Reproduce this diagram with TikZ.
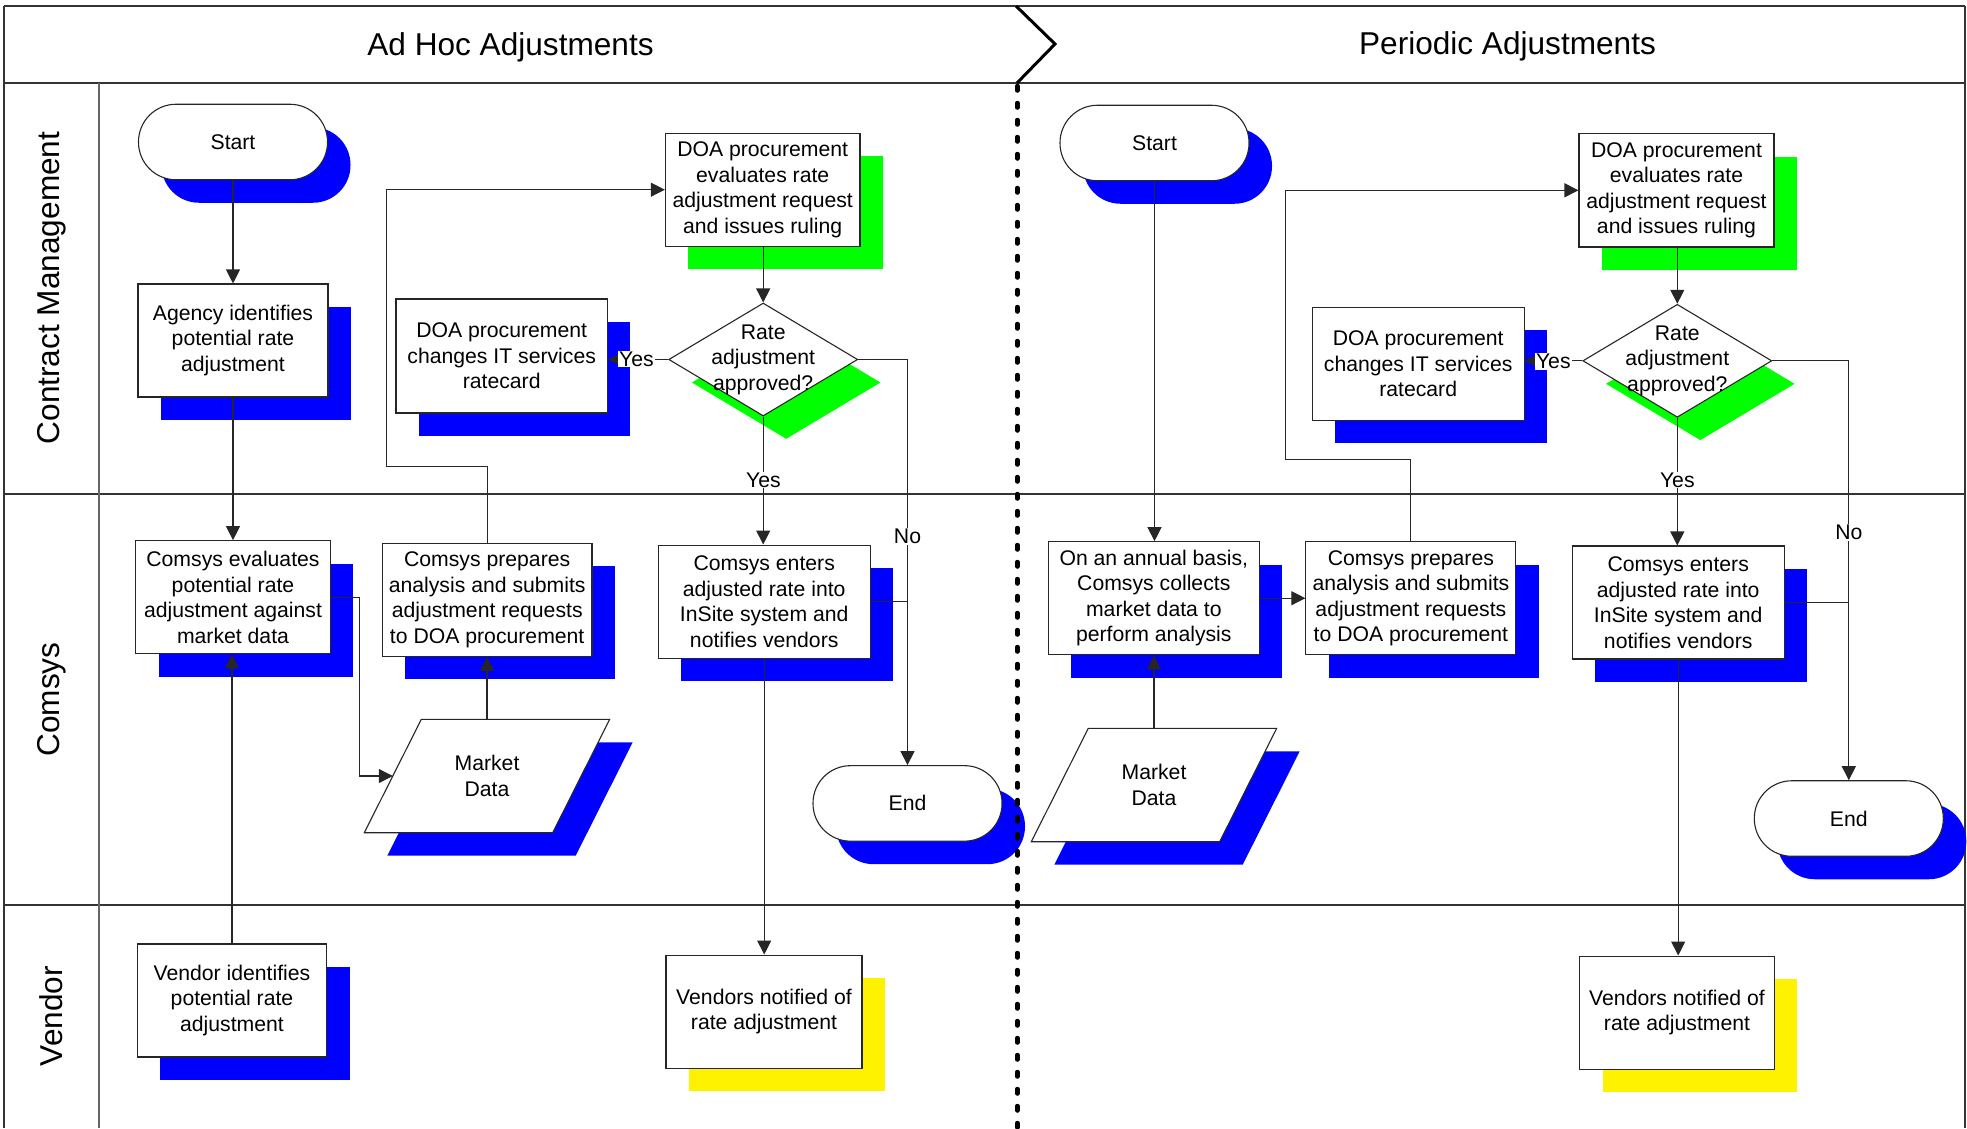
\documentclass[tikz,border=0pt]{standalone}
\usepackage{fontspec}
\setmainfont{Liberation Sans}
\usetikzlibrary{arrows.meta,shapes.geometric,shadows,calc}
\begin{document}
\begin{tikzpicture}[x=1pt,y=-1pt,
  every node/.style={font=\fontsize{21.2}{25.5}\selectfont},
  bshadow/.style={general shadow={shadow xshift=23pt,shadow yshift=-23pt,fill=blue}},
  gshadow/.style={general shadow={shadow xshift=23pt,shadow yshift=-23pt,fill=green}},
  yshadow/.style={general shadow={shadow xshift=23pt,shadow yshift=-23pt,fill=yellow}},
  proc/.style={draw=black!85,line width=1.1pt,fill=white,align=center,inner sep=1pt},
  term/.style={draw=black!85,line width=1.1pt,fill=white,rounded corners=37.5pt,minimum width=189pt,minimum height=75.5pt,inner sep=0pt},
  dec/.style={shape=diamond,draw=black!85,line width=1.1pt,fill=white,minimum width=189pt,minimum height=113pt,inner sep=0pt},
  iobox/.style={minimum width=188pt,minimum height=113pt,inner sep=0pt},
  iotext/.style={align=center,inner sep=0pt},
  conn/.style={draw=black!85,line width=1.1pt},
  arr/.style={conn,-{Triangle[length=14pt,width=14pt]}},
  lbl/.style={fill=white,inner sep=1pt},
  frame/.style={draw=black!80,line width=2pt},
  lanetitle/.style={font=\fontsize{31.6}{38}\selectfont},
]
\useasboundingbox (0,0) rectangle (1967,1128);

% ---------- frame ----------
\draw[frame] (4,6) -- (1965,6);
\draw[frame] (4,6) -- (4,1128);
\draw[frame] (1965,6) -- (1965,1128);
\draw[frame] (4,83) -- (1965,83);
\draw[frame] (4,494) -- (1965,494);
\draw[frame] (4,905) -- (1965,905);
\draw[draw=black!60,line width=1.5pt] (99,83) -- (99,1128);

\node[lanetitle] (hL) at (510.5,47) {Ad Hoc Adjustments};
\node[lanetitle] (hR) at (1507.5,46) {Periodic Adjustments};
\node[lanetitle,rotate=90] (lCM) at (51.5,288) {Contract Management};
\node[lanetitle,rotate=90] (lCS) at (51.5,699.5) {Comsys};
\node[lanetitle,rotate=90] (lV) at (51.5,1016) {Vendor};

% ---------- left: Ad Hoc ----------
\node[term,bshadow] (startL) at (233,142) {Start};
\node[proc,bshadow,minimum width=190pt,minimum height=113pt] (agency) at (233,340.5) {Agency identifies\\potential rate\\adjustment};
\node[proc,gshadow,minimum width=194.6pt,minimum height=113.3pt] (doaeval) at (762.7,189.7) {DOA procurement\\evaluates rate\\adjustment request\\and issues ruling};
\node[proc,bshadow,minimum width=211.5pt,minimum height=114pt] (doachg) at (501.7,356) {DOA procurement\\changes IT services\\ratecard};
\node[dec,gshadow,label={[align=center]center:Rate\\adjustment\\approved?}] (dia) at (763.2,359.5) {};
\node[proc,bshadow,minimum width=194.7pt,minimum height=113pt] (ceval) at (233,597.2) {Comsys evaluates\\potential rate\\adjustment against\\market data};
\node[proc,bshadow,minimum width=209.5pt,minimum height=113.3pt] (cprep) at (487.2,599.7) {Comsys prepares\\analysis and submits\\adjustment requests\\to DOA procurement};
\node[proc,bshadow,minimum width=211.7pt,minimum height=113.3pt] (center) at (764.2,601.7) {Comsys enters\\adjusted rate into\\InSite system and\\notifies vendors};
\node[term,bshadow] (endL) at (907.5,803.4) {End};
\node[proc,bshadow,minimum width=189.2pt,minimum height=113pt] (vendid) at (232,1000.5) {Vendor identifies\\potential rate\\adjustment};
\node[proc,yshadow,minimum width=196pt,minimum height=113.3pt] (vnotL) at (764,1011.7) {Vendors notified of\\rate adjustment};

% market data (left) parallelogram
\node[iobox] (mdL) at (487,776) {};
\fill[blue] ($(mdL.north west)+(51.5,23)$) -- ($(mdL.north east)+(51.5,23)$) -- ($(mdL.south east)+(-5.5,23)$) -- ($(mdL.south west)+(-5.5,23)$) -- cycle;
\filldraw[fill=white,draw=black!85,line width=1.1pt] ($(mdL.north west)+(28.5,0)$) -- ($(mdL.north east)+(28.5,0)$) -- ($(mdL.south east)+(-28.5,0)$) -- ($(mdL.south west)+(-28.5,0)$) -- cycle;
\node[iotext] (mdLt) at (mdL) {Market\\Data};

% ---------- right: Periodic ----------
\node[term,bshadow] (startR) at (1154.5,143) {Start};
\node[proc,gshadow,minimum width=195pt,minimum height=113.3pt] (doaevalR) at (1676.5,190.3) {DOA procurement\\evaluates rate\\adjustment request\\and issues ruling};
\node[proc,bshadow,minimum width=211.7pt,minimum height=113.3pt] (doachgR) at (1418.2,363.7) {DOA procurement\\changes IT services\\ratecard};
\node[dec,gshadow,label={[align=center]center:Rate\\adjustment\\approved?}] (diaR) at (1677.3,360.8) {};
\node[proc,bshadow,minimum width=211pt,minimum height=113pt] (annual) at (1153.8,598.2) {On an annual basis,\\Comsys collects\\market data to\\perform analysis};
\node[proc,bshadow,minimum width=210pt,minimum height=113pt] (cprepR) at (1410.9,598.2) {Comsys prepares\\analysis and submits\\adjustment requests\\to DOA procurement};
\node[proc,bshadow,minimum width=211.7pt,minimum height=113pt] (centerR) at (1678.2,602.5) {Comsys enters\\adjusted rate into\\InSite system and\\notifies vendors};
\node[term,bshadow] (endR) at (1848.8,818.5) {End};
\node[proc,yshadow,minimum width=194.3pt,minimum height=113.3pt] (vnotR) at (1677,1012.7) {Vendors notified of\\rate adjustment};

\node[iobox] (mdR) at (1154,785) {};
\fill[blue] ($(mdR.north west)+(51.5,23)$) -- ($(mdR.north east)+(51.5,23)$) -- ($(mdR.south east)+(-5.5,23)$) -- ($(mdR.south west)+(-5.5,23)$) -- cycle;
\filldraw[fill=white,draw=black!85,line width=1.1pt] ($(mdR.north west)+(28.5,0)$) -- ($(mdR.north east)+(28.5,0)$) -- ($(mdR.south east)+(-28.5,0)$) -- ($(mdR.south west)+(-28.5,0)$) -- cycle;
\node[iotext] (mdRt) at (mdR) {Market\\Data};

% ---------- connectors left ----------
\draw[arr] (startL.south) -- (startL.south |- agency.north);
\draw[arr] (agency.south) -- (agency.south |- ceval.north);
\draw[arr] (vendid.north) -- (vendid.north |- ceval.south);
\draw[arr] (ceval.east) -- ++(29,0) |- (mdL.west);
\draw[arr] (mdL.north) -- (mdL.north |- cprep.south);
\draw[arr] (cprep.north) -- ++(0,-76) -- ++(-100.8,0) |- (doaeval.west);
\draw[arr] (doaeval.south) -- (doaeval.south -| dia.north) -- (dia.north);
\draw[arr] (dia.west) -- (dia.west -| doachg.east);
\draw[arr] (dia.south) -- (dia.south |- center.north);
\draw[arr] (dia.east) -| (endL.north);
\draw[conn] (center.east) -- (center.east -| endL.north);
\draw[arr] (center.south) -- (center.south |- vnotL.north);
\node[lbl] (yL1) at (636.5,359) {Yes};
\node[lbl] (yL2) at (763.5,480) {Yes};
\node[lbl] (nL) at (907.5,536.7) {No};

% ---------- connectors right ----------
\draw[arr] (startR.south) -- (startR.south |- annual.north);
\draw[arr] (mdR.north) -- (mdR.north |- annual.south);
\draw[arr] (annual.east) -- (annual.east -| cprepR.west);
\draw[arr] (cprepR.north) -- ++(0,-82) -- ++(-125.2,0) |- (doaevalR.west);
\draw[arr] (doaevalR.south) -- (doaevalR.south -| diaR.north) -- (diaR.north);
\draw[arr] (diaR.west) -- (diaR.west -| doachgR.east);
\draw[arr] (diaR.south) -- (diaR.south |- centerR.north);
\draw[arr] (diaR.east) -| (endR.north);
\draw[conn] (centerR.east) -- (centerR.east -| endR.north);
\draw[arr] (centerR.south) -- (centerR.south |- vnotR.north);
\node[lbl] (yR1) at (1553.3,361.7) {Yes};
\node[lbl] (yR2) at (1677.3,480) {Yes};
\node[lbl] (nR) at (1848.8,532.3) {No};

% ---------- divider ----------
\draw[line width=3pt,line join=miter] (1016,6) -- (1055,44) -- (1017,83);
\draw[line width=4.5pt,dash pattern=on 4.5pt off 12.5pt,line cap=round] (1017.3,86) -- (1017.3,1128);
\end{tikzpicture}
\end{document}
